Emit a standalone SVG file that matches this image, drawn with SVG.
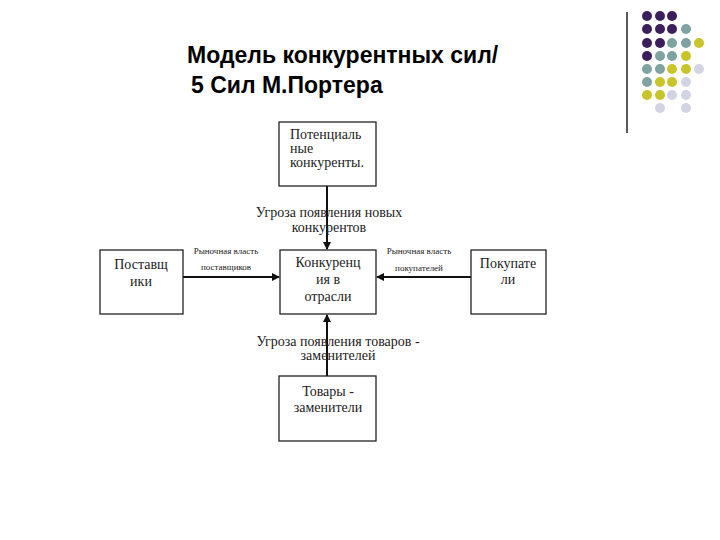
<svg xmlns="http://www.w3.org/2000/svg" width="720" height="540" viewBox="0 0 720 540">
<style>
.b{fill:#fff;stroke:#222;stroke-width:1.3}
.t{font-family:"Liberation Serif",serif;fill:#222;font-size:14px;text-anchor:middle}
.s{font-family:"Liberation Serif",serif;fill:#222;font-size:9px;text-anchor:middle}
.h{font-family:"Liberation Sans",sans-serif;font-weight:bold;font-size:23px;fill:#000}
.l{stroke:#111;stroke-width:2;fill:none;marker-end:url(#a)}
.P{fill:#3b1f5c}.T{fill:#7ea3a0}.Y{fill:#c8c42a}.L{fill:#d2d3e3}
</style>
<defs><marker id="a" markerWidth="8" markerHeight="8" refX="7" refY="4" orient="auto" markerUnits="userSpaceOnUse"><path d="M0,0L8,4L0,8z" fill="#111"/></marker></defs>
<rect width="720" height="540" fill="#fff"/>
<line x1="627" y1="12" x2="627" y2="133" stroke="#000" stroke-width="1.3"/>
<g>
<circle class="P" cx="647" cy="16" r="5"/><circle class="P" cx="660" cy="16" r="5"/><circle class="P" cx="672" cy="16" r="5"/>
<circle class="P" cx="647" cy="29" r="5"/><circle class="P" cx="660" cy="29" r="5"/><circle class="P" cx="672" cy="29" r="5"/><circle class="T" cx="686" cy="29" r="5"/>
<circle class="P" cx="647" cy="43" r="5"/><circle class="P" cx="660" cy="43" r="5"/><circle class="T" cx="672" cy="43" r="5"/><circle class="T" cx="686" cy="43" r="5"/><circle class="Y" cx="699" cy="43" r="5"/>
<circle class="P" cx="647" cy="56" r="5"/><circle class="T" cx="660" cy="56" r="5"/><circle class="T" cx="672" cy="56" r="5"/><circle class="Y" cx="686" cy="56" r="5"/>
<circle class="T" cx="647" cy="69" r="5"/><circle class="T" cx="660" cy="69" r="5"/><circle class="Y" cx="672" cy="69" r="5"/><circle class="Y" cx="686" cy="69" r="5"/><circle class="L" cx="699" cy="69" r="5"/>
<circle class="T" cx="647" cy="82" r="5"/><circle class="Y" cx="660" cy="82" r="5"/><circle class="Y" cx="672" cy="82" r="5"/><circle class="L" cx="686" cy="82" r="5"/>
<circle class="Y" cx="647" cy="95" r="5"/><circle class="Y" cx="660" cy="95" r="5"/><circle class="L" cx="672" cy="95" r="5"/><circle class="L" cx="686" cy="95" r="5"/>
<circle class="L" cx="660" cy="108" r="5"/><circle class="L" cx="686" cy="108" r="5"/>
</g>
<text class="h" x="187" y="63">Модель конкурентных сил/</text>
<text class="h" x="191" y="93">5 Сил М.Портера</text>
<g id="connectors">
<line class="l" x1="327" y1="186" x2="327" y2="249"/>
<line class="l" x1="327" y1="376" x2="327" y2="315"/>
<line class="l" x1="183" y1="277" x2="279" y2="277"/>
<line class="l" x1="471" y1="277" x2="377" y2="277"/>
<text class="t" x="329" y="217">Угроза появления новых</text>
<text class="t" x="329" y="232">конкурентов</text>
<text class="t" x="338" y="346">Угроза появления  товаров -</text>
<text class="t" x="338" y="360">заменителей</text>
<text class="s" x="226" y="254">Рыночная власть</text>
<text class="s" x="226" y="270">поставщиков</text>
<text class="s" x="419" y="254">Рыночная власть</text>
<text class="s" x="419" y="271">покупателей</text>
</g>
<g id="potential"><rect class="b" x="279" y="122" width="97" height="64"/>
<text class="t" x="290" y="139" font-size="13" style="text-anchor:start">Потенциаль</text>
<text class="t" x="290" y="153" font-size="13" style="text-anchor:start">ные</text>
<text class="t" x="290" y="167" font-size="13" style="text-anchor:start">конкуренты.</text></g>
<g id="suppliers"><rect class="b" x="100" y="250" width="83" height="64"/>
<text class="t" x="141" y="269" font-size="15">Поставщ</text><text class="t" x="141" y="286">ики</text></g>
<g id="center"><rect class="b" x="280" y="250" width="96" height="64"/>
<text class="t" x="328" y="267" font-size="15">Конкуренц</text><text class="t" x="328" y="284">ия в</text><text class="t" x="328" y="301">отрасли</text></g>
<g id="buyers"><rect class="b" x="471" y="250" width="75" height="64"/>
<text class="t" x="508" y="268" font-size="12">Покупате</text><text class="t" x="508" y="284" font-size="12">ли</text></g>
<g id="substitutes"><rect class="b" x="279" y="376" width="97" height="65"/>
<text class="t" x="328" y="396">Товары -</text><text class="t" x="328" y="412">заменители</text></g>
</svg>
